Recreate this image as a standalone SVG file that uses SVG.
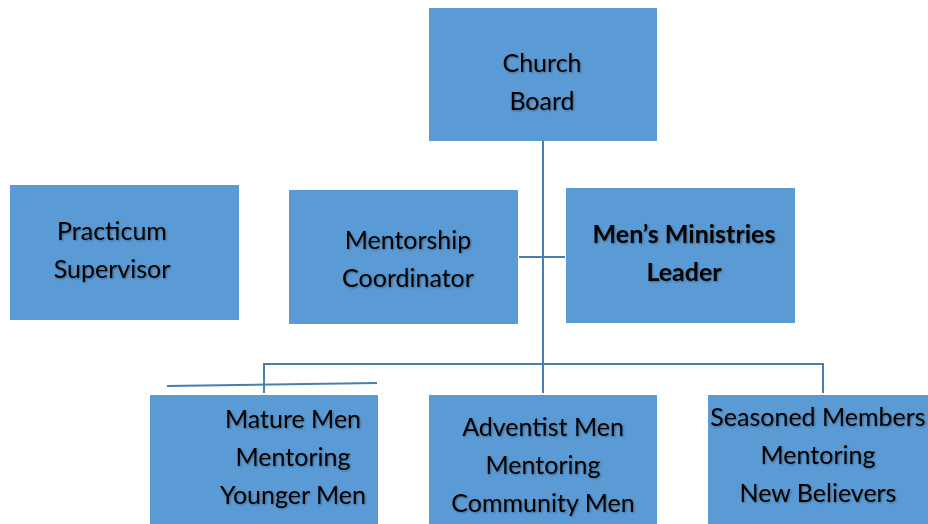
<svg xmlns="http://www.w3.org/2000/svg" width="928" height="524" viewBox="0 0 928 524">
  <defs>
    <filter id="soft" x="-10%" y="-20%" width="120%" height="140%">
      <feGaussianBlur in="SourceAlpha" stdDeviation="1"/>
      <feOffset dx="1" dy="1" result="b"/>
      <feFlood flood-color="#000" flood-opacity="0.35"/>
      <feComposite in2="b" operator="in"/>
      <feMerge><feMergeNode/><feMergeNode in="SourceGraphic"/></feMerge>
    </filter>
  </defs>
  <style>
    .box { fill: #5b9bd5; }
    .lbl { font-family: Lato, "Open Sans", "Liberation Sans", sans-serif; font-size: 25px; fill: #000; text-anchor: middle; filter: url(#soft); }
    .bold { font-weight: bold; }
    .wire { stroke: #4a7eb0; stroke-width: 2; fill: none; }
  </style>
  <rect width="928" height="524" fill="#fff"/>

  <g id="connectors">
    <line class="wire" x1="543" y1="141" x2="543" y2="393"/>
    <line class="wire" x1="519" y1="257" x2="565" y2="257"/>
    <polyline class="wire" points="264,393 264,364 823,364 823,393"/>
    <line class="wire" x1="167" y1="386" x2="377" y2="383"/>
  </g>

  <g id="church-board">
    <rect class="box" x="429" y="8" width="228" height="133"/>
    <text class="lbl" x="542" y="72">Church</text>
    <text class="lbl" x="542" y="110">Board</text>
  </g>

  <g id="practicum-supervisor">
    <rect class="box" x="10" y="185" width="229" height="135"/>
    <text class="lbl" x="112" y="240">Practicum</text>
    <text class="lbl" x="112" y="278">Supervisor</text>
  </g>

  <g id="mentorship-coordinator">
    <rect class="box" x="289" y="190" width="229" height="134"/>
    <text class="lbl" x="408" y="249">Mentorship</text>
    <text class="lbl" x="408" y="287">Coordinator</text>
  </g>

  <g id="mens-ministries-leader">
    <rect class="box" x="566" y="188" width="229" height="135"/>
    <text class="lbl bold" x="684" y="243">Men’s Ministries</text>
    <text class="lbl bold" x="684" y="281">Leader</text>
  </g>

  <g id="mature-men">
    <rect class="box" x="150" y="395" width="228" height="130"/>
    <text class="lbl" x="293" y="428">Mature Men</text>
    <text class="lbl" x="293" y="466">Mentoring</text>
    <text class="lbl" x="293" y="504">Younger Men</text>
  </g>

  <g id="adventist-men">
    <rect class="box" x="429" y="395" width="228" height="130"/>
    <text class="lbl" x="543" y="436">Adventist Men</text>
    <text class="lbl" x="543" y="474">Mentoring</text>
    <text class="lbl" x="543" y="512">Community Men</text>
  </g>

  <g id="seasoned-members">
    <rect class="box" x="708" y="395" width="221" height="130"/>
    <text class="lbl" x="818" y="426">Seasoned Members</text>
    <text class="lbl" x="818" y="464">Mentoring</text>
    <text class="lbl" x="818" y="502">New Believers</text>
  </g>
</svg>
